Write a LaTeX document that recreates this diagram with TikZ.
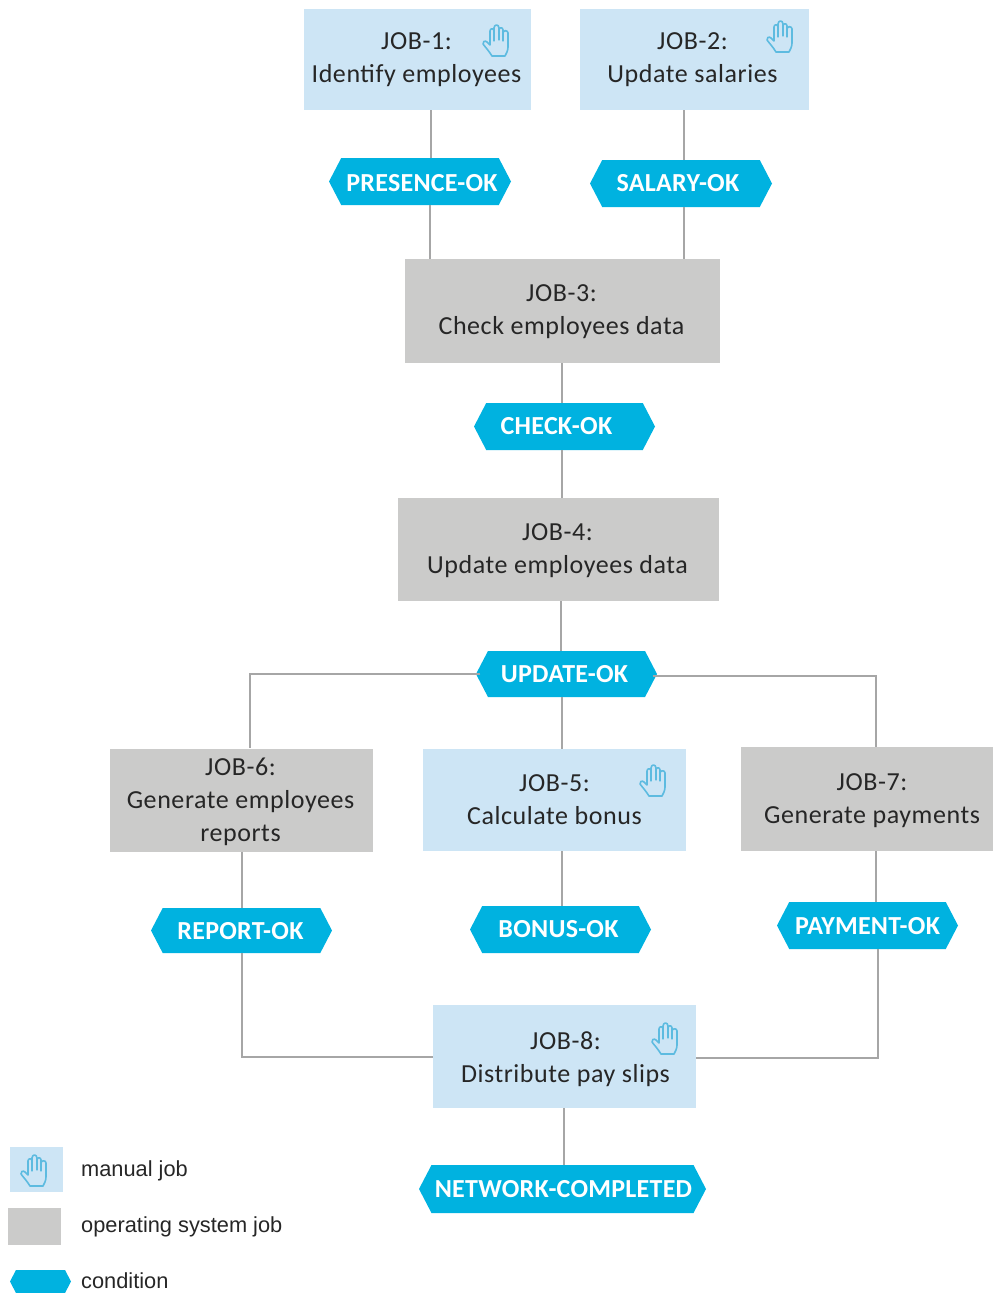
\documentclass[tikz,border=0pt]{standalone}
\usepackage{fontspec}
\setmainfont{Carlito}
\newfontfamily\legendfont{Liberation Sans}
\usetikzlibrary{shapes.symbols,positioning,calc}
\definecolor{manualblue}{HTML}{CDE5F5}
\definecolor{osgray}{HTML}{CBCBCA}
\definecolor{condblue}{HTML}{00B2E0}
\definecolor{linegray}{HTML}{A6A6A6}
\definecolor{handblue}{HTML}{5DBBE0}
\definecolor{textdark}{HTML}{262626}
\newcommand{\jobfont}{\addfontfeature{LetterSpace=2.2}\fontsize{26}{33}\selectfont}
\newcommand{\condfont}{\addfontfeature{LetterSpace=1.0}\fontsize{26}{28}\selectfont\bfseries}
% move a label from the centre of its node by #1 and #2 (down)
\newcommand{\shifted}[3]{\vbox{\kern#2pt\kern#2pt\hbox{\kern#1pt\kern#1pt #3}}}
\newcommand{\lines}[3]{\shifted{#1}{#2}{\begin{tabular}{@{}c@{}}#3\end{tabular}}}
\tikzset{
  x=1pt,y=-1pt,
  jobbox/.style={inner sep=0pt,text=textdark,font=\jobfont},
  manualbox/.style={jobbox,fill=manualblue},
  osbox/.style={jobbox,fill=osgray},
  cond/.style={signal,signal to=west and east,signal pointer angle=125,fill=condblue,text=white,
    inner sep=0pt,font=\condfont},
  conn/.style={draw=linegray,line width=1.8pt},
  legendtext/.style={anchor=west,inner sep=0pt,text=textdark,font=\legendfont\fontsize{21.8}{24}\selectfont},
  hand/.pic={
    \draw[handblue,line width=1.6pt,line cap=round,line join=round,fill=none]
      (-5,16) .. controls (-8,11) and (-11,8) .. (-14,4)
      .. controls (-15,2) and (-12,0) .. (-10,2)
      -- (-7,5) -- (-7,-9)
      .. controls (-7,-12) and (-3,-12) .. (-3,-9)
      -- (-3,-12)
      .. controls (-3,-16) and (2,-16) .. (2,-12)
      -- (2,-10)
      .. controls (2,-13) and (6,-13) .. (6,-10)
      -- (6,-7)
      .. controls (6,-10) and (11,-10) .. (11,-7)
      -- (11,7)
      .. controls (11,11) and (9,14) .. (8,16)
      -- cycle;
    \draw[handblue,line width=1.2pt,line cap=round] (-3,-9) -- (-3,1) (2,-10) -- (2,0) (6,-7) -- (6,1);
  }
}
\newcommand{\boxat}[7]{\node[#1,minimum width=#5-#4,minimum height=#7-#6] (#2) at ({(#4+#5)/2},{(#6+#7)/2}) {#3};}
\begin{document}
\begin{tikzpicture}
\useasboundingbox (0,0) rectangle (993,1293);
% jobs
\boxat{manualbox}{j1}{\lines{-1}{0}{JOB-1:\\Identify employees}}{304}{531}{9}{110}
\boxat{manualbox}{j2}{\lines{-2}{0}{JOB-2:\\Update salaries}}{580}{809}{9}{110}
\boxat{osbox}{j3}{\lines{-1}{0}{JOB-3:\\Check employees data}}{405}{720}{259}{363}
\boxat{osbox}{j4}{\lines{-1}{1}{JOB-4:\\Update employees data}}{398}{719}{498}{601}
\boxat{osbox}{j6}{\lines{-1}{2}{JOB-6:\\Generate employees\\reports}}{110}{373}{749}{851}
\boxat{manualbox}{j5}{\lines{0}{1}{JOB-5:\\Calculate bonus}}{423}{686}{749}{851}
\boxat{osbox}{j7}{\lines{5}{1.5}{JOB-7:\\Generate payments}}{741}{993}{747}{851}
\boxat{manualbox}{j8}{\lines{1}{3}{JOB-8:\\Distribute pay slips}}{433}{696}{1005}{1108}
% conditions
\boxat{cond}{c1}{\shifted{2}{1.5}{PRESENCE-OK}}{329}{511}{158}{205}
\boxat{cond}{c2}{\shifted{-3}{0}{SALARY-OK}}{590}{772}{160}{207}
\boxat{cond}{c3}{\shifted{-8}{0}{CHECK-OK}}{474}{655}{403}{450}
\boxat{cond}{c4}{\shifted{-2}{0}{UPDATE-OK}}{476}{657}{651}{697}
\boxat{cond}{c6}{\shifted{-1}{0.5}{REPORT-OK}}{151}{332}{908}{953}
\boxat{cond}{c5}{\shifted{-2}{0}{BONUS-OK}}{470}{651}{906}{953}
\boxat{cond}{c7}{\shifted{0}{1}{PAYMENT-OK}}{777}{958}{902}{949}
\boxat{cond}{c8}{\shifted{1}{0}{NETWORK-COMPLETED}}{419}{706}{1165}{1213}
% connectors
\draw[conn] (j1.south -| 431,0) -- (c1.north -| 431,0);
\draw[conn] (c1.south -| 430,0) -- (j3.north -| 430,0);
\draw[conn] (j2.south -| 684,0) -- (c2.north -| 684,0);
\draw[conn] (c2.south -| 684,0) -- (j3.north -| 684,0);
\draw[conn] (j3.south -| 562,0) -- (c3.north -| 562,0);
\draw[conn] (c3.south -| 562,0) -- (j4.north -| 562,0);
\draw[conn] (j4.south -| 561,0) -- (c4.north -| 561,0);
\draw[conn] (c4.south -| 562,0) -- (j5.north -| 562,0);
\draw[conn] (c4.174 |- 0,674) -- (250,674) -- (j6.north -| 250,0);
\draw[conn] (c4.6 |- 0,676) -- (876,676) -- (j7.north -| 876,0);
\draw[conn] (j6.south -| 242,0) -- (c6.north -| 242,0);
\draw[conn] (c6.south -| 242,0) -- (242,1057) -- (j8.west |- 0,1057);
\draw[conn] (j5.south -| 562,0) -- (c5.north -| 562,0);
\draw[conn] (j7.south -| 876,0) -- (c7.north -| 876,0);
\draw[conn] (c7.south -| 878,0) -- (878,1058) -- (j8.east |- 0,1058);
\draw[conn] (j8.south -| 564,0) -- (c8.north -| 564,0);
% hands
\pic at (497,40) {hand};
\pic at (781,36) {hand};
\pic at (654,780) {hand};
\pic at (666,1038) {hand};
% legend
\boxat{manualbox}{l1}{}{10}{63}{1147}{1192}
\pic at (35,1170) {hand};
\boxat{osbox}{l2}{}{8}{61}{1208}{1245}
\boxat{cond}{l3}{}{10}{71}{1270}{1293}
\node[legendtext] (t1) at (81,1171) {manual job};
\node[legendtext] (t2) at (81,1227) {operating system job};
\node[legendtext] (t3) at (81,1281) {condition};
\end{tikzpicture}
\end{document}
